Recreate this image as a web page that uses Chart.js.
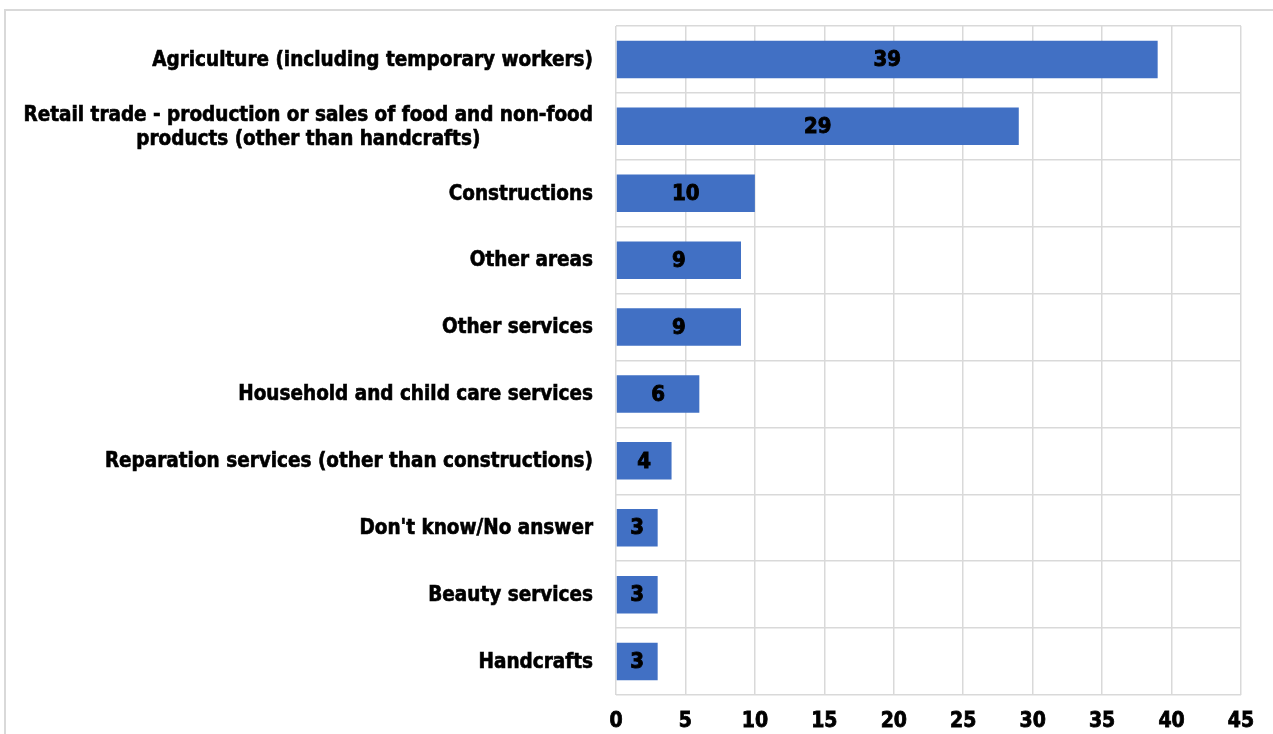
<!DOCTYPE html>
<html>
<head>
<meta charset="utf-8">
<script src="https://cdn.jsdelivr.net/npm/chart.js@4"></script>
<style>
  html, body { margin: 0; padding: 0; background: #fff; }
  #frame {
    position: absolute; left: 4px; top: 9px; width: 1269px; height: 725px;
    border-left: 2px solid #d9d9d9; border-top: 2px solid #d9d9d9;
  }
  #wrap { position: absolute; left: 0; top: 0; width: 1273px; height: 734px; }
</style>
</head>
<body>
<div id="frame"></div>
<div id="wrap"><canvas id="myChart" width="1273" height="734"></canvas></div>
<script>
const FONT = "'Liberation Sans Narrow', 'DejaVu Sans Condensed', sans-serif";

const categories = [
  ['Agriculture (including temporary workers)'],
  ['Retail trade - production or sales of food and non-food', 'products (other than handcrafts)'],
  ['Constructions'],
  ['Other areas'],
  ['Other services'],
  ['Household and child care services'],
  ['Reparation services (other than constructions)'],
  ["Don't know/No answer"],
  ['Beauty services'],
  ['Handcrafts']
];
const values = [39, 29, 10, 9, 9, 6, 4, 3, 3, 3];
const xTicks = [0, 5, 10, 15, 20, 25, 30, 35, 40, 45];

// draws the value in the middle of each bar
const barValues = {
  id: 'barValues',
  afterDatasetsDraw(chart) {
    const ctx = chart.ctx;
    const meta = chart.getDatasetMeta(0);
    ctx.save();
    ctx.font = 'bold 22px ' + FONT;
    ctx.fillStyle = '#000';
    ctx.strokeStyle = '#000';
    ctx.lineWidth = 0.9;
    ctx.textAlign = 'center';
    ctx.textBaseline = 'middle';
    meta.data.forEach((bar, i) => {
      const x = (bar.base + bar.x) / 2;
      ctx.fillText(String(values[i]), x, bar.y + 1);
      ctx.strokeText(String(values[i]), x, bar.y + 1);
    });
    ctx.restore();
  }
};

// category labels: right aligned, wrapped lines centred on each other
const catLabels = {
  id: 'catLabels',
  afterDraw(chart) {
    const ctx = chart.ctx;
    const y = chart.scales.y;
    ctx.save();
    ctx.font = 'bold 20.5px ' + FONT;
    ctx.fillStyle = '#000';
    ctx.strokeStyle = '#000';
    ctx.lineWidth = 0.6;
    ctx.textBaseline = 'middle';
    ctx.textAlign = 'center';
    const right = y.right - 23;
    const lineH = 24;
    categories.forEach((lines, i) => {
      const cy = y.getPixelForTick(i) + 1;
      const w = Math.max(...lines.map(l => ctx.measureText(l).width));
      const cx = right - w / 2;
      lines.forEach((l, j) => {
        const ly = cy + (j - (lines.length - 1) / 2) * lineH;
        ctx.fillText(l, cx, ly);
        ctx.strokeText(l, cx, ly);
      });
    });
    ctx.restore();
  }
};

const ctx = document.getElementById('myChart');

const myChart = new Chart(ctx, {
  type: 'bar',
  data: {
    labels: categories,
    datasets: [{
      data: values,
      backgroundColor: '#4170c4',
      borderWidth: 0,
      barPercentage: 0.56,
      categoryPercentage: 1
    }]
  },
  options: {
    indexAxis: 'y',
    responsive: false,
    animation: false,
    layout: { padding: { top: 26, right: 32, left: 0, bottom: 0 } },
    plugins: { legend: { display: false }, tooltip: { enabled: false } },
    scales: {
      x: {
        min: 0,
        max: 45,
        afterBuildTicks: (scale) => { scale.ticks = xTicks.map(v => ({ value: v })); },
        afterFit: (scale) => { scale.height = 39; },
        grid: { color: '#d9d9d9', lineWidth: 1.5, drawTicks: false },
        border: { display: false },
        ticks: {
          color: '#000',
          padding: 14,
          textStrokeColor: '#000',
          textStrokeWidth: 0.8,
          font: { family: FONT, size: 21, weight: 'bold' }
        }
      },
      y: {
        afterFit: (scale) => { scale.width = 616; },
        grid: { color: '#d9d9d9', lineWidth: 1.5, drawTicks: false },
        border: { display: false },
        ticks: { color: 'transparent', font: { family: FONT, size: 19, weight: 'bold' } }
      }
    }
  },
  plugins: [barValues, catLabels]
});
</script>
</body>
</html>
